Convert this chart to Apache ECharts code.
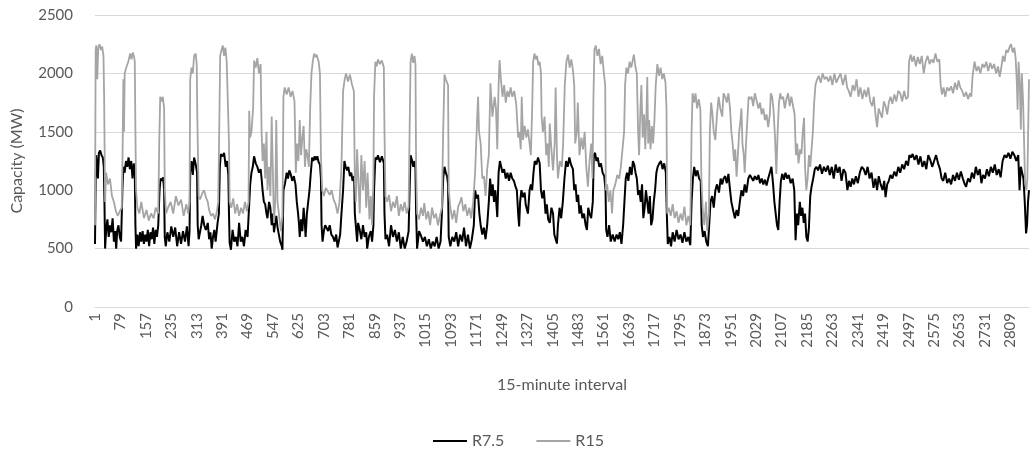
<!DOCTYPE html>
<html>
<head>
<meta charset="utf-8">
<script src="https://cdn.jsdelivr.net/npm/echarts@6/dist/echarts.min.js"></script>
<style>
  html, body { margin: 0; padding: 0; background: #fff; }
  #chart { width: 1034px; height: 456px; }
</style>
</head>
<body>
<div id="chart"></div>
<script>
// number of 15-minute intervals on the x axis
const intervalCount = 2866
const categories = []
for (let i = 1; i <= intervalCount; i++) categories.push(String(i))

const yTicks = { min: 0, max: 2500, step: 500 }

// [interval index, MW]
const r75 = [
  [0,540],[2,1100],[4,1300],[7,1310],[9,1100],[12,1320],[16,1340],[20,1300],[24,1280],[27,1200],[29,900],[31,500],[34,650],[38,750],[42,600],[46,700],[50,640],[54,760],[58,560],[62,650],[65,500],[68,650],[72,700],[76,600],[80,560],[84,1000],[87,1200],[91,1150],[95,1250],[99,1200],[103,1280],[107,1180],[111,1250],[115,1100],[119,1230],[122,1150],[124,700],[126,500],[130,620],[134,520],[138,640],[142,560],[146,650],[150,540],[154,620],[158,560],[162,660],[166,520],[170,640],[174,580],[178,680],[182,540],[186,660],[190,600],[194,700],[198,1000],[201,1100],[205,1080],[209,1110],[212,1000],[214,600],[217,520],[222,640],[228,560],[234,690],[240,600],[246,680],[252,520],[258,640],[264,540],[270,650],[276,560],[282,690],[287,520],[290,650],
  [292,1150],[296,1250],[300,1130],[304,1280],[309,1220],[313,1150],[315,700],[318,580],[322,640],[326,700],[330,780],[335,700],[340,660],[346,720],[350,580],[354,640],[358,500],[362,600],[366,660],[370,560],[376,720],[380,800],[383,1200],[386,1310],[391,1290],[396,1320],[401,1200],[405,1250],[409,1130],[411,800],[413,550],[417,490],[422,660],[427,560],[432,600],[437,520],[442,720],[447,560],[452,600],[457,520],[462,660],[468,600],[471,770],[476,1050],[480,1150],[484,1200],[488,1290],[493,1230],[498,1200],[503,1150],[508,1180],[511,1100],[514,1000],[518,900],[522,880],[526,800],[529,760],[534,900],[538,850],[542,700],[546,800],[549,640],[553,720],[556,780],[560,680],[564,620],[568,560],[573,520],[575,490],[578,1000],[583,1060],[588,1150],[592,1100],[596,1170],[600,1140],[605,1080],[610,1120],[615,1050],[619,900],
  [623,800],[626,700],[628,600],[632,750],[636,650],[640,850],[644,700],[646,600],[650,800],[654,900],[658,1000],[662,1150],[666,1280],[670,1250],[674,1290],[678,1260],[682,1290],[686,1240],[690,1220],[693,1100],[695,700],[698,560],[702,650],[706,700],[710,680],[715,650],[720,700],[725,620],[730,600],[735,560],[740,620],[744,510],[748,500],[752,620],[756,800],[761,1000],[765,1250],[769,1200],[773,1170],[777,1200],[782,1120],[786,1150],[790,1080],[795,1120],[797,800],[800,700],[804,560],[807,720],[812,660],[817,580],[822,700],[827,600],[832,640],[835,500],[840,600],[846,650],[850,560],[854,700],[856,1000],[860,1280],[864,1260],[868,1300],[874,1240],[880,1290],[886,1230],[888,800],[891,580],[896,620],[902,520],[908,700],[914,600],[920,660],[926,560],[932,640],[938,500],[944,600],[950,500],
  [956,560],[962,650],[965,1000],[968,1300],[972,1260],[976,1200],[980,1250],[983,1180],[985,800],[988,500],[994,650],[1000,610],[1006,560],[1012,600],[1018,520],[1024,580],[1030,500],[1036,560],[1042,520],[1048,600],[1054,500],[1060,560],[1064,800],[1068,1100],[1072,1200],[1076,1150],[1080,1120],[1083,1050],[1085,600],[1090,520],[1096,600],[1102,560],[1108,640],[1114,520],[1120,620],[1126,560],[1132,680],[1138,520],[1144,620],[1150,500],[1156,580],[1162,700],[1166,1000],[1170,930],[1175,960],[1179,800],[1183,700],[1188,620],[1193,680],[1198,580],[1203,700],[1208,900],[1212,1100],[1216,950],[1220,1050],[1224,900],[1228,1000],[1232,850],[1234,770],[1238,1150],[1242,1250],[1246,1200],[1250,1150],[1255,1180],[1260,1100],[1265,1150],[1270,1080],
  [1275,1150],[1280,1100],[1285,1080],[1290,1030],[1294,1000],[1298,800],[1301,690],[1304,900],[1308,1000],[1313,940],[1318,980],[1321,880],[1328,800],[1333,1000],[1337,1050],[1341,1000],[1345,1150],[1349,1250],[1354,1220],[1359,1280],[1364,1230],[1368,1000],[1372,930],[1377,1000],[1382,800],[1386,880],[1390,750],[1395,720],[1400,850],[1405,800],[1409,620],[1413,580],[1417,543],[1420,700],[1425,850],[1430,760],[1435,900],[1440,1100],[1445,1250],[1450,1200],[1455,1280],[1460,1220],[1466,1180],[1470,1000],[1474,1050],[1478,900],[1482,960],[1486,800],[1490,870],[1495,760],[1500,800],[1505,700],[1509,660],[1513,850],[1517,800],[1522,760],[1527,900],[1530,1300],[1534,1320],[1538,1250],[1542,1280],[1547,1200],[1552,1230],[1557,1150],[1562,1120],[1566,1000],[1568,660],[1572,600],[1577,700],[1582,560],[1588,620],[1594,560],
  [1600,620],[1605,580],[1610,640],[1615,540],[1620,700],[1624,900],[1628,1100],[1632,1150],[1636,1080],[1641,1200],[1646,1130],[1650,1250],[1654,1220],[1658,1150],[1662,1100],[1666,960],[1670,1000],[1674,900],[1678,1050],[1682,760],[1686,850],[1690,1000],[1694,900],[1698,800],[1702,950],[1706,700],[1710,750],[1714,900],[1718,1000],[1722,1150],[1726,1200],[1731,1230],[1736,1250],[1741,1180],[1746,1230],[1751,1150],[1754,800],[1757,540],[1762,600],[1767,520],[1772,640],[1778,560],[1784,660],[1790,580],[1796,620],[1802,550],[1808,640],[1814,560],[1820,600],[1826,530],[1830,900],[1834,1100],[1838,1200],[1843,1120],[1848,1170],[1853,1100],[1858,1080],[1861,700],[1865,600],[1870,650],[1875,560],[1880,520],[1884,700],[1888,900],[1893,950],[1898,850],[1903,1000],[1908,1050],[1914,980],[1919,1100],
  [1924,1050],[1928,1100],[1933,1120],[1938,1060],[1943,1140],[1948,1000],[1952,900],[1958,820],[1963,760],[1968,830],[1973,780],[1978,900],[1983,1000],[1988,950],[1993,1050],[1998,980],[2004,1100],[2009,1130],[2014,1140],[2019,1080],[2024,1120],[2030,1090],[2035,1130],[2040,1060],[2045,1100],[2050,1050],[2055,1090],[2060,1040],[2065,1100],[2070,1150],[2075,1200],[2080,1050],[2084,900],[2088,800],[2092,700],[2096,660],[2100,900],[2104,1080],[2108,1140],[2113,1090],[2118,1150],[2123,1100],[2128,1130],[2134,1060],[2140,1100],[2145,1000],[2149,572],[2153,800],[2157,700],[2162,900],[2166,780],[2170,850],[2174,720],[2178,800],[2182,600],[2186,560],[2190,680],[2194,950],[2198,1030],[2203,1100],[2208,1180],[2213,1200],[2218,1170],[2224,1220],[2230,1140],[2236,1200],[2242,1160],[2248,1210],
  [2254,1130],[2260,1200],[2266,1100],[2272,1220],[2278,1150],[2284,1200],[2290,1080],[2296,1180],[2302,1150],[2308,1000],[2313,1080],[2318,1030],[2323,1100],[2328,1050],[2334,1120],[2340,1060],[2346,1150],[2352,1200],[2358,1180],[2364,1130],[2370,1200],[2376,1100],[2382,1150],[2388,1020],[2394,1100],[2399,1000],[2404,1120],[2410,1050],[2416,1000],[2421,1080],[2425,940],[2430,1050],[2435,1080],[2440,1130],[2446,1100],[2452,1160],[2458,1120],[2464,1200],[2470,1150],[2476,1220],[2482,1180],[2488,1250],[2494,1210],[2498,1300],[2503,1280],[2508,1310],[2514,1260],[2520,1300],[2526,1220],[2532,1290],[2538,1200],[2544,1250],[2550,1180],[2556,1300],[2562,1260],[2568,1200],
  [2574,1250],[2580,1300],[2586,1230],[2592,1180],[2597,1100],[2602,1080],[2608,1150],[2614,1060],[2620,1100],[2626,1050],[2632,1130],[2638,1080],[2644,1150],[2650,1090],[2656,1160],[2662,1100],[2668,1050],[2672,1030],[2678,1100],[2684,1070],[2690,1150],[2696,1100],[2702,1200],[2708,1130],[2714,1180],[2719,1060],[2724,1130],[2730,1100],[2736,1180],[2742,1120],[2748,1200],[2754,1150],[2760,1220],[2766,1130],[2772,1180],[2778,1110],[2784,1250],[2790,1300],[2796,1280],[2802,1320],[2808,1270],[2814,1330],[2820,1300],[2826,1250],[2832,1300],[2836,1000],[2840,1200],[2844,1150],[2848,1100],[2852,900],[2856,630],[2859,700],[2862,900],[2865,1000]
]

const r15 = [
  [0,700],[2,2200],[4,2240],[7,1950],[10,2220],[14,2250],[18,2200],[22,2230],[26,2150],[28,1800],[31,900],[34,1150],[40,1050],[46,1100],[52,950],[58,900],[64,820],[70,780],[76,820],[82,850],[85,1400],[87,1950],[89,1500],[91,2000],[96,2050],[102,2100],[108,2170],[112,2120],[116,2180],[120,2140],[122,2100],[124,1500],[126,1000],[130,850],[136,800],[142,900],[150,760],[158,830],[165,740],[172,800],[180,760],[186,850],[194,800],[197,1400],[200,1800],[204,1760],[208,1800],[212,1700],[214,1000],[218,800],[224,850],[232,900],[240,800],[248,950],[256,870],[264,920],[272,780],[280,880],[286,800],[290,900],
  [292,1950],[296,2050],[300,2000],[304,2150],[309,2170],[312,2080],[314,1600],[318,950],[322,920],[330,980],[335,1000],[340,940],[346,900],[350,830],[356,780],[362,800],[368,750],[374,820],[378,900],[381,1500],[384,2150],[388,2200],[392,2240],[396,2150],[400,2220],[404,2100],[409,2090],[411,1400],[413,900],[418,850],[424,930],[430,800],[436,880],[442,780],[448,850],[454,800],[460,900],[466,820],[471,900],[473,1680],[476,1450],[480,1500],[485,1700],[488,2110],[493,2050],[498,2130],[503,2000],[508,2080],[511,1500],[514,1250],[518,1400],[522,1100],[526,1500],[529,1000],[534,1200],[538,950],[542,1630],[546,1100],[549,720],[553,900],[556,1600],[560,900],[564,800],[570,650],[575,780],[578,1800],[582,1880],[588,1820],[594,1880],[600,1800],[606,1850],[612,1760],
  [616,1150],[620,1400],[624,1250],[628,1600],[632,1300],[636,1450],[640,1550],[644,1200],[648,1350],[652,1300],[656,1200],[660,1700],[664,2000],[668,2100],[672,2170],[676,2140],[680,2160],[686,2100],[690,2000],[693,1300],[697,1000],[702,950],[708,1020],[714,1030],[720,960],[726,1000],[732,920],[738,880],[744,800],[750,900],[756,1200],[761,1850],[766,1950],[770,2000],[776,1930],[782,1990],[788,1910],[794,1850],[797,1100],[800,900],[804,1350],[807,1150],[812,800],[817,1300],[822,1000],[827,1250],[832,850],[836,1150],[842,750],[846,950],[850,700],[854,1100],[856,1800],[860,2100],[864,2060],[868,2120],[874,2080],[880,2110],[886,2050],[888,1500],[891,950],[896,900],[902,960],[908,820],[914,900],[920,850],[926,950],[932,780],[938,880],[944,820],[950,900],
  [956,800],[962,860],[965,1500],[968,2100],[972,2170],[976,2090],[980,2150],[983,2080],[985,1200],[988,800],[994,750],[1000,850],[1006,780],[1010,890],[1016,750],[1022,820],[1028,700],[1034,850],[1040,760],[1046,800],[1052,700],[1058,780],[1064,850],[1068,1500],[1072,1990],[1076,1950],[1080,1960],[1083,1900],[1085,1000],[1090,850],[1096,750],[1102,830],[1108,720],[1114,860],[1120,900],[1124,940],[1130,820],[1136,880],[1142,780],[1148,850],[1154,760],[1160,900],[1166,1150],[1172,1600],[1175,1800],[1178,1500],[1183,1400],[1188,1100],[1193,1120],[1198,950],[1203,1180],[1208,1300],[1213,1915],[1219,1630],[1226,1800],[1230,1700],[1234,1350],[1238,1900],[1241,2115],[1245,1950],[1250,1800],[1255,1900],[1260,1750],[1265,1850],[1270,1800],
  [1275,1880],[1280,1800],[1286,1850],[1292,1740],[1298,1450],[1302,1500],[1306,1350],[1309,1800],[1313,1430],[1318,1550],[1323,1450],[1328,1520],[1333,1400],[1337,1300],[1341,1700],[1344,2100],[1348,2170],[1352,2120],[1356,2150],[1360,2070],[1364,2100],[1368,2000],[1370,1630],[1374,1500],[1379,1630],[1384,1300],[1388,1400],[1392,1200],[1395,1570],[1400,1350],[1405,1170],[1410,1400],[1413,1880],[1417,1300],[1420,1100],[1426,1250],[1432,1200],[1436,1400],[1441,1900],[1446,2100],[1451,2160],[1456,2050],[1461,2120],[1466,2030],[1470,1900],[1473,1400],[1478,1500],[1481,1750],[1486,1300],[1492,1450],[1497,1350],[1502,1500],[1507,1200],[1512,1030],[1517,1250],[1522,1400],[1526,1100],[1529,1800],[1532,2200],[1536,2240],[1541,2150],[1546,2210],[1551,2080],[1556,2150],[1561,2000],[1565,1900],[1567,1000],[1571,1050],[1576,900],[1581,1000],[1586,800],
  [1590,1000],[1596,1050],[1602,1130],[1608,1100],[1613,1200],[1618,1350],[1623,1500],[1626,1900],[1630,2050],[1635,2000],[1640,2100],[1645,2050],[1650,2120],[1653,2160],[1658,2050],[1662,2000],[1666,1500],[1669,1300],[1673,1700],[1676,1900],[1680,1450],[1684,1650],[1688,1350],[1692,1700],[1694,1970],[1697,1400],[1700,1600],[1704,1350],[1708,1550],[1712,1400],[1716,1600],[1720,1900],[1725,2080],[1730,1980],[1735,2050],[1740,1950],[1745,2000],[1750,1920],[1753,1700],[1755,800],[1760,850],[1766,780],[1772,880],[1778,760],[1784,820],[1790,720],[1796,800],[1802,740],[1808,860],[1814,700],[1820,780],[1826,700],[1830,1500],[1833,1830],[1838,1750],[1842,1830],[1847,1700],[1852,1780],[1857,1690],[1860,1100],[1864,850],[1869,700],[1874,900],[1878,650],[1883,800],[1886,1500],[1890,1750],[1894,1650],[1898,1500],[1903,1430],[1908,1650],[1913,1800],[1918,1700],[1924,1630],
  [1928,1830],[1933,1800],[1938,1750],[1943,1830],[1948,1700],[1952,1500],[1956,1400],[1960,1250],[1964,1350],[1968,1115],[1972,1300],[1976,1500],[1980,1600],[1983,1700],[1986,1400],[1990,1300],[1993,1150],[1997,1400],[2001,1600],[2005,1800],[2010,1780],[2014,1800],[2019,1720],[2024,1830],[2030,1760],[2035,1700],[2040,1750],[2045,1650],[2050,1700],[2055,1600],[2060,1650],[2065,1540],[2070,1650],[2073,1830],[2077,1800],[2081,1700],[2086,1450],[2090,1140],[2094,1500],[2098,1750],[2102,1830],[2106,1780],[2111,1800],[2116,1700],[2121,1780],[2126,1830],[2131,1720],[2136,1800],[2142,1800],[2146,1650],[2150,1300],[2154,1400],[2158,1230],[2163,1350],[2167,1310],[2171,1500],[2175,1620],[2178,1200],[2182,1000],[2186,1100],[2190,1300],[2194,1200],[2198,1350],[2202,1500],[2206,1750],[2210,1900],[2214,1940],[2220,1980],[2226,1920],[2232,2000],[2238,1950],[2244,1970],
  [2250,1930],[2256,1980],[2262,1900],[2268,2000],[2274,1920],[2280,1960],[2287,2000],[2294,1900],[2302,1990],[2307,1880],[2312,1850],[2318,1800],[2324,1900],[2330,1850],[2336,1950],[2342,1800],[2348,1880],[2354,1780],[2360,1860],[2366,1800],[2372,1880],[2378,1760],[2384,1720],[2389,1800],[2394,1650],[2399,1540],[2404,1700],[2409,1690],[2414,1620],[2420,1760],[2425,1720],[2430,1650],[2435,1750],[2440,1800],[2446,1740],[2452,1820],[2458,1760],[2464,1850],[2470,1830],[2476,1760],[2482,1850],[2488,1780],[2494,1800],[2497,2100],[2502,2160],[2507,2100],[2512,2150],[2518,2060],[2524,2140],[2530,2080],[2536,2150],[2542,2000],[2548,2100],[2554,2150],[2560,2080],[2566,2120],
  [2572,2090],[2578,2170],[2584,2100],[2590,2120],[2594,1900],[2598,1820],[2603,1880],[2608,1800],[2614,1880],[2620,1850],[2626,1890],[2632,1830],[2638,1920],[2644,1860],[2649,1940],[2654,1880],[2660,1850],[2666,1800],[2672,1840],[2678,1780],[2684,1830],[2688,1800],[2692,1980],[2698,2100],[2704,2020],[2710,2060],[2716,2000],[2722,2080],[2728,2050],[2734,2100],[2740,2020],[2746,2090],[2752,2040],[2758,2080],[2764,2000],[2770,2060],[2775,1970],[2780,2050],[2785,2150],[2790,2100],[2795,2200],[2800,2180],[2806,2230],[2810,2250],[2815,2180],[2820,2220],[2824,2130],[2828,1900],[2830,1690],[2833,2100],[2837,1900],[2840,1520],[2843,2000],[2847,1750],[2850,1400],[2853,1060],[2857,1000],[2860,1100],[2863,1600],[2865,1950]
]

const textColor = '#595959'
const fontFamily = 'Lato, "Open Sans", sans-serif'

const chart = echarts.init(document.getElementById('chart'), null, { renderer: 'canvas' })
const option = {
  animation: false,
  textStyle: { fontFamily: fontFamily },
  grid: { left: 95, right: 5, top: 15, bottom: 149 },
  legend: {
    top: 428,
    left: 428,
    itemWidth: 34,
    itemHeight: 2,
    itemGap: 32,
    textStyle: { color: textColor, fontSize: 16, fontFamily: fontFamily },
    data: [
      { name: 'R7.5', icon: 'rect' },
      { name: 'R15', icon: 'rect' }
    ]
  },
  xAxis: {
    type: 'category',
    data: categories,
    boundaryGap: false,
    name: '15-minute interval',
    nameLocation: 'middle',
    nameGap: 70,
    nameTextStyle: { color: textColor, fontSize: 16 },
    axisLine: { lineStyle: { color: '#d9d9d9' } },
    axisTick: { show: false },
    axisLabel: { interval: 77, rotate: 90, color: textColor, fontSize: 15, margin: 6 },
    splitLine: { show: false }
  },
  yAxis: {
    type: 'value',
    min: yTicks.min,
    max: yTicks.max,
    interval: yTicks.step,
    name: 'Capacity (MW)',
    nameLocation: 'middle',
    nameGap: 70,
    nameTextStyle: { color: textColor, fontSize: 16 },
    axisLine: { show: false },
    axisTick: { show: false },
    axisLabel: { color: textColor, fontSize: 15, margin: 22, formatter: function (v) { return String(v) } },
    splitLine: { lineStyle: { color: '#d9d9d9' } }
  },
  series: [
    {
      name: 'R7.5',
      type: 'line',
      data: r75,
      showSymbol: false,
      symbol: 'none',
      lineStyle: { color: '#000000', width: 2 },
      itemStyle: { color: '#000000' }
    },
    {
      name: 'R15',
      type: 'line',
      data: r15,
      showSymbol: false,
      symbol: 'none',
      lineStyle: { color: '#a5a5a5', width: 1.8 },
      itemStyle: { color: '#a5a5a5' }
    }
  ]
}
chart.setOption(option)
</script>
</body>
</html>
